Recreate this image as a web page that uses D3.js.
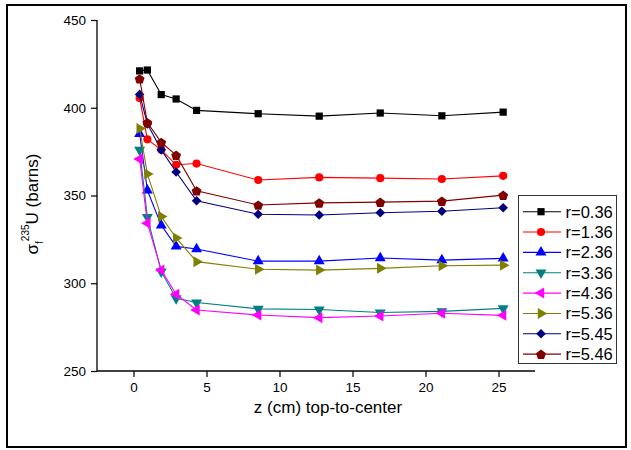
<!DOCTYPE html>
<html>
<head>
<meta charset="utf-8">
<script src="https://cdn.jsdelivr.net/npm/d3@7"></script>
<style>
  html, body { margin: 0; padding: 0; background: #fff; }
  svg { display: block; font-family: Arial, "Liberation Sans", sans-serif; }
</style>
</head>
<body>
<svg id="chart" width="631" height="450"></svg>
<script>
// Axial positions (cm, measured from the top toward the centre)
const zPositions = [0.42, 0.95, 1.9, 2.92, 4.32, 8.54, 12.72, 16.9, 21.12, 25.32];

// Fission cross-section of U-235 (barns) at each radial position
const r036 = [421, 421.5, 407.5, 405, 398.5, 396.6, 395.2, 397, 395.4, 397.5];
const r136 = [405.5, 382, 376, 367.5, 368.2, 358.8, 360.3, 359.9, 359.4, 361.2];
const r236 = [385.2, 353, 333, 321, 319.5, 312.6, 312.6, 314.4, 313.2, 314.2];
const r336 = [376, 337.7, 306.6, 291.4, 289, 285.4, 285, 283.3, 284, 285.7];
const r436 = [370.8, 334.2, 307.5, 293.7, 284.8, 281.9, 280.4, 281.3, 282.9, 281.7];
const r536 = [388.2, 362.3, 338, 325.8, 312.3, 308, 307.5, 308.5, 310, 310.3];
const r545 = [407.6, 390.8, 376, 363.4, 347, 339.3, 338.9, 340.2, 341, 343];
const r546 = [416.5, 391.6, 380.3, 373, 352.7, 344.6, 345.8, 346.2, 346.8, 350.2];

const seriesNames = ["r=0.36", "r=1.36", "r=2.36", "r=3.36", "r=4.36", "r=5.36", "r=5.45", "r=5.46"];
const seriesValues = [r036, r136, r236, r336, r436, r536, r545, r546];
const seriesColors = ["#000000", "#ff0000", "#0000ff", "#008080", "#ff00ff", "#808000", "#000080", "#800000"];
const seriesMarkers = ["square", "circle", "up", "down", "left", "right", "diamond", "pentagon"];

const xTicks = [0, 5, 10, 15, 20, 25];
const yTicks = [250, 300, 350, 400, 450];

const svg = d3.select("#chart");

// outer frame
svg.append("rect")
  .attr("x", 7).attr("y", 5).attr("width", 619).attr("height", 442)
  .attr("fill", "none").attr("stroke", "#000").attr("stroke-width", 2);

const plot = { left: 97, right: 535, top: 20, bottom: 371 };

const x = d3.scaleLinear().domain([-2.5, 27.5]).range([plot.left, plot.right]);
const y = d3.scaleLinear().domain([250, 450]).range([plot.bottom, plot.top]);

// x axis: major ticks + minor ticks
const xAxisG = svg.append("g").attr("transform", `translate(0,${plot.bottom})`);
xAxisG.call(d3.axisBottom(x).tickValues(d3.range(-2.5, 27.6, 2.5)).tickSize(3).tickFormat(""))
  .call(g => g.select(".domain").remove());
xAxisG.call(d3.axisBottom(x).tickValues(xTicks).tickSize(6).tickPadding(5).tickFormat(d3.format("d")))
  .call(g => g.selectAll(".domain").attr("d", `M${plot.left},0H${plot.right}`));
xAxisG.selectAll(".domain").attr("stroke-width", 1.3);
xAxisG.selectAll("line").attr("stroke-width", 1.2);
xAxisG.selectAll("text").attr("font-size", 13.5).attr("font-family", "Arial, 'Liberation Sans', sans-serif").attr("fill", "#000");

// y axis: major ticks + minor ticks
const yAxisG = svg.append("g").attr("transform", `translate(${plot.left},0)`);
yAxisG.call(d3.axisLeft(y).tickValues(d3.range(250, 451, 10)).tickSize(3).tickFormat(""))
  .call(g => g.select(".domain").remove());
yAxisG.call(d3.axisLeft(y).tickValues(yTicks).tickSize(6).tickPadding(5).tickFormat(d3.format("d")))
  .call(g => g.selectAll(".domain").attr("d", `M0,${plot.top}V${plot.bottom}`));
yAxisG.selectAll(".domain").attr("stroke-width", 1.3);
yAxisG.selectAll("line").attr("stroke-width", 1.2);
yAxisG.selectAll("text").attr("font-size", 13.5).attr("font-family", "Arial, 'Liberation Sans', sans-serif").attr("fill", "#000");

// axis titles
svg.append("text")
  .attr("x", 328).attr("y", 413)
  .attr("text-anchor", "middle")
  .attr("font-size", 17)
  .text("z (cm) top-to-center");

const yTitle = svg.append("text")
  .attr("transform", "translate(38,204) rotate(-90)")
  .attr("text-anchor", "middle")
  .attr("font-size", 17);
yTitle.append("tspan").text("σ");
yTitle.append("tspan").attr("font-size", 10).attr("dy", 5).text("f");
yTitle.append("tspan").attr("font-size", 10).attr("dy", -14).text("235");
yTitle.append("tspan").attr("dy", 9).text("U (barns)");

// marker path generator
function markerPath(kind) {
  const tri = d3.symbol().type(d3.symbolTriangle).size(52)();
  switch (kind) {
    case "square": return { d: d3.symbol().type(d3.symbolSquare).size(52)(), rot: 0 };
    case "circle": return { d: d3.symbol().type(d3.symbolCircle).size(52)(), rot: 0 };
    case "up": return { d: tri, rot: 0 };
    case "down": return { d: tri, rot: 180 };
    case "left": return { d: tri, rot: -90 };
    case "right": return { d: tri, rot: 90 };
    case "diamond": return { d: d3.symbol().type(d3.symbolSquare).size(46)(), rot: 45 };
    case "pentagon": {
      const rr = 5.2;
      const pts = d3.range(5).map(i => {
        const a = -Math.PI / 2 + i * 2 * Math.PI / 5;
        return [rr * Math.cos(a), rr * Math.sin(a) + 0.6];
      });
      return { d: "M" + pts.map(p => p.join(",")).join("L") + "Z", rot: 0 };
    }
  }
}

const line = d3.line().x(d => x(d[0])).y(d => y(d[1]));

seriesValues.forEach((vals, i) => {
  const pts = zPositions.map((z, j) => [z, vals[j]]);
  const g = svg.append("g");
  g.append("path")
    .attr("d", line(pts))
    .attr("fill", "none")
    .attr("stroke", seriesColors[i])
    .attr("stroke-width", 1.1);
  const m = markerPath(seriesMarkers[i]);
  g.selectAll("path.mk").data(pts).join("path")
    .attr("class", "mk")
    .attr("d", m.d)
    .attr("transform", d => `translate(${x(d[0])},${y(d[1])}) rotate(${m.rot})`)
    .attr("fill", seriesColors[i]);
});

// legend
const legend = svg.append("g");
legend.append("rect")
  .attr("x", 518.5).attr("y", 195.5).attr("width", 98).attr("height", 168)
  .attr("fill", "#fff").attr("stroke", "#333").attr("stroke-width", 1);
seriesNames.forEach((name, i) => {
  const yy = 211.7 + i * 20.35;
  legend.append("line")
    .attr("x1", 523).attr("x2", 561).attr("y1", yy).attr("y2", yy)
    .attr("stroke", seriesColors[i]).attr("stroke-width", 1.1);
  const m = markerPath(seriesMarkers[i]);
  legend.append("path")
    .attr("d", m.d)
    .attr("transform", `translate(541,${yy}) rotate(${m.rot})`)
    .attr("fill", seriesColors[i]);
  legend.append("text")
    .attr("x", 565.5).attr("y", yy + 6)
    .attr("font-size", 16.5)
    .text(name);
});
</script>
</body>
</html>
